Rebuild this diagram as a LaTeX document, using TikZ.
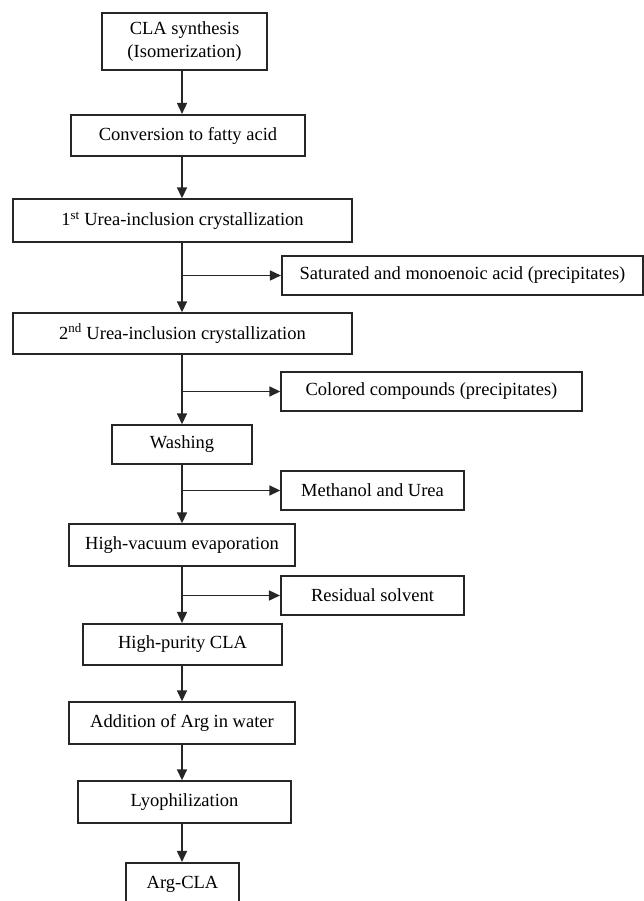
\documentclass[tikz,border=0pt]{standalone}
\usepackage{fontspec}
\setmainfont{Liberation Serif}
\usetikzlibrary{arrows.meta}
\begin{document}
\begin{tikzpicture}[x=1pt,y=-1pt,
  box/.style={draw=black!85, line width=1.4pt, inner sep=0pt, align=center,
    font=\fontsize{18.5}{23}\selectfont},
  tbox/.style={box, line width=2.1pt},
  arr/.style={draw=black!85, line width=1.6pt, -{Triangle[length=11pt,width=10pt]}}]
\useasboundingbox (0,0) rectangle (644,901);
\coordinate (ax) at (182,0);
\node[box, minimum width=165pt, minimum height=57pt] (cla) at (184.5,41.5) {CLA synthesis\\(Isomerization)};
\node[tbox, minimum width=234pt, minimum height=41pt] (conv) at (188,135.5) {Conversion to fatty acid};
\node[box, minimum width=339pt, minimum height=43pt] (u1) at (182.5,220.5) {1\textsuperscript{st} Urea-inclusion crystallization};
\node[tbox, minimum width=361pt, minimum height=39pt] (sat) at (462.5,275.5) {Saturated and monoenoic acid (precipitates)};
\node[box, minimum width=339pt, minimum height=41pt] (u2) at (182.5,333.5) {2\textsuperscript{nd} Urea-inclusion crystallization};
\node[box, minimum width=301pt, minimum height=39pt] (col) at (431.5,391.5) {Colored compounds (precipitates)};
\node[box, minimum width=140pt, minimum height=39pt] (wash) at (182,444.5) {Washing};
\node[box, minimum width=183pt, minimum height=39pt] (meth) at (372.5,490.5) {Methanol and Urea};
\node[box, minimum width=226pt, minimum height=42pt] (hv) at (182,545) {High-vacuum evaporation};
\node[tbox, minimum width=183pt, minimum height=39pt] (res) at (372.5,595.5) {Residual solvent};
\node[tbox, minimum width=199pt, minimum height=41pt] (hp) at (182.5,644.5) {High-purity CLA};
\node[box, minimum width=226pt, minimum height=42pt] (add) at (182,723) {Addition of Arg in water};
\node[box, minimum width=213pt, minimum height=42pt] (lyo) at (184.5,802) {Lyophilization};
\node[tbox, minimum width=113pt, minimum height=42pt] (arg) at (182.5,884) {Arg-CLA};
\draw[arr] (cla.south -| ax) -- (conv.north -| ax);
\draw[arr] (conv.south -| ax) -- (u1.north -| ax);
\draw[arr] (u1.south -| ax) -- (u2.north -| ax);
\draw[arr] (sat.west -| ax) -- (sat.west);
\draw[arr] (u2.south -| ax) -- (wash.north -| ax);
\draw[arr] (col.west -| ax) -- (col.west);
\draw[arr] (wash.south -| ax) -- (hv.north -| ax);
\draw[arr] (meth.west -| ax) -- (meth.west);
\draw[arr] (hv.south -| ax) -- (hp.north -| ax);
\draw[arr] (res.west -| ax) -- (res.west);
\draw[arr] (hp.south -| ax) -- (add.north -| ax);
\draw[arr] (add.south -| ax) -- (lyo.north -| ax);
\draw[arr] (lyo.south -| ax) -- (arg.north -| ax);
\end{tikzpicture}
\end{document}
